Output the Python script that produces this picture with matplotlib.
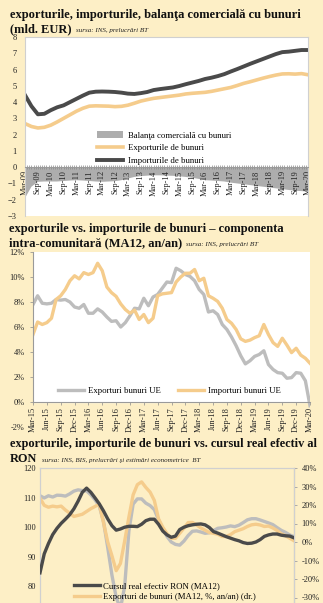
import matplotlib
matplotlib.use("Agg")
import matplotlib.pyplot as plt
import numpy as np

plt.rcParams['font.family'] = ['Liberation Serif', 'DejaVu Serif']

BG = '#FDEFC6'
ORANGE = '#F5CC8C'
DARK = '#4A4A4A'
GRAY = '#BDBDBD'

# ---- panel 1: monthly index, Mar-09 = 0, quarterly readings
p1_ticklabels = ['Mar-09', 'Sep-09', 'Mar-10', 'Sep-10', 'Mar-11', 'Sep-11', 'Mar-12',
                 'Sep-12', 'Mar-13', 'Sep-13', 'Mar-14', 'Sep-14', 'Mar-15', 'Sep-15',
                 'Mar-16', 'Sep-16', 'Mar-17', 'Sep-17', 'Mar-18', 'Sep-18', 'Mar-19',
                 'Sep-19', 'Mar-20']
p1_imports = [4.43, 3.75, 3.25, 3.28, 3.5, 3.68, 3.8, 4.0, 4.2, 4.4, 4.58, 4.64, 4.65,
              4.64, 4.62, 4.58, 4.52, 4.5, 4.55, 4.62, 4.74, 4.8, 4.85, 4.9, 4.99, 5.1,
              5.2, 5.3, 5.42, 5.5, 5.6, 5.72, 5.88, 6.03, 6.19, 6.35, 6.5, 6.65, 6.8,
              6.95, 7.07, 7.1, 7.15, 7.2, 7.2]
p1_exports = [2.68, 2.5, 2.41, 2.45, 2.58, 2.78, 3.0, 3.22, 3.44, 3.62, 3.75, 3.77, 3.76,
              3.75, 3.72, 3.74, 3.81, 3.93, 4.06, 4.15, 4.23, 4.28, 4.33, 4.38, 4.43, 4.5,
              4.54, 4.57, 4.6, 4.66, 4.74, 4.82, 4.9, 5.02, 5.15, 5.25, 5.36, 5.47, 5.57,
              5.66, 5.73, 5.74, 5.72, 5.75, 5.68]
p1_balance = [-1.9, -1.2, -0.9, -0.88, -0.88, -0.88, -0.85, -0.82, -0.8, -0.82, -0.85,
              -0.88, -0.9, -0.88, -0.86, -0.8, -0.7, -0.6, -0.55, -0.52, -0.5, -0.5,
              -0.52, -0.53, -0.56, -0.6, -0.65, -0.72, -0.8, -0.82, -0.85, -0.88, -0.95,
              -1.0, -1.05, -1.1, -1.15, -1.2, -1.25, -1.3, -1.35, -1.4, -1.45, -1.47, -1.5]

# ---- panel 2: monthly, Mar-15 = 0
p2_ticklabels = ['Mar-15', 'Jun-15', 'Sep-15', 'Dec-15', 'Mar-16', 'Jun-16', 'Sep-16',
                 'Dec-16', 'Mar-17', 'Jun-17', 'Sep-17', 'Dec-17', 'Mar-18', 'Jun-18',
                 'Sep-18', 'Dec-18', 'Mar-19', 'Jun-19', 'Sep-19', 'Dec-19', 'Mar-20']
p2_exp_ue = [7.8, 8.5, 7.9, 7.85, 7.9, 8.2, 8.15, 8.2, 8.0, 7.6, 7.5, 7.8, 7.1, 7.1, 7.45,
             7.2, 6.8, 6.45, 6.5, 6.0, 6.35, 6.9, 7.5, 7.45, 8.3, 7.7, 8.4, 8.6, 9.1, 9.6,
             9.55, 10.7, 10.5, 10.2, 10.05, 9.7, 9.0, 8.6, 7.2, 7.3, 7.0, 6.2, 5.8, 5.2,
             4.5, 3.7, 3.05, 3.3, 3.65, 3.8, 4.1, 3.0, 2.6, 2.35, 2.3, 1.9, 1.95, 2.35,
             2.3, 1.7, -0.3]
p2_imp_ue = [5.4, 6.4, 6.2, 6.35, 6.7, 8.2, 8.5, 9.0, 9.7, 10.1, 9.85, 10.35, 10.2, 10.35,
             11.1, 10.5, 9.2, 8.75, 8.45, 7.85, 7.4, 7.1, 7.35, 6.6, 7.0, 6.35, 6.7, 8.5,
             8.65, 8.7, 8.75, 9.6, 10.0, 10.3, 10.3, 10.6, 9.7, 9.9, 8.5, 8.3, 8.05, 7.5,
             6.6, 6.3, 5.8, 5.05, 4.85, 4.95, 5.15, 5.3, 6.2, 5.4, 4.75, 4.45, 5.1, 4.55,
             3.95, 4.3, 3.75, 3.5, 3.1]

# ---- panel 3: quarterly from 2005Q1
p3_reer = [84.6, 91.0, 94.5, 97.5, 99.6, 101.3, 102.7, 104.2, 106.2, 108.8, 111.8, 113.2,
           111.8, 109.9, 107.9, 105.5, 102.8, 100.5, 99.0, 99.4, 100.0, 100.3, 100.3,
           100.2, 101.0, 102.2, 102.7, 102.7, 101.0, 98.7, 97.4, 96.6, 97.0, 99.2, 100.0,
           100.5, 100.8, 101.0, 101.1, 100.8, 99.9, 98.5, 98.0, 97.4, 96.8, 96.3, 95.8,
           95.4, 94.8, 94.5, 94.6, 95.0, 95.8, 96.9, 97.4, 97.7, 97.7, 97.3, 97.1, 97.0,
           96.4]
p3_exp = [23.7, 19.8, 18.8, 19.4, 19.0, 19.4, 17.3, 15.6, 13.8, 14.4, 15.0, 16.5, 18.0,
          19.2, 20.5, 10.5, 0.0, -7.5, -15.5, -11.6, 0.5, 13.5, 25.5, 31.0, 32.5, 29.5,
          27.0, 22.5, 12.5, 8.0, 4.5, 2.0, 2.0, 4.7, 7.5, 10.5, 10.6, 9.2, 7.6, 6.4, 5.1,
          4.7, 4.2, 3.0, 3.0, 4.0, 5.6, 6.4, 7.2, 8.4, 9.3, 9.6, 9.2, 8.4, 8.6, 7.6, 6.2,
          4.4, 3.4, 2.0, 0.7]
p3_imp = [25.0, 23.8, 25.0, 24.3, 25.3, 25.2, 24.8, 26.0, 27.5, 28.2, 27.8, 27.6, 25.5,
          22.8, 19.5, 11.0, -3.0, -18.0, -30.0, -36.0, -24.0, 6.0, 20.5, 23.3, 23.3, 21.0,
          19.7, 17.5, 12.0, 7.0, 3.0, 0.0, -1.3, -1.7, 0.5, 3.5, 5.8, 6.0, 5.4, 4.7, 5.0,
          6.2, 7.4, 7.7, 8.1, 8.7, 8.3, 9.1, 10.5, 12.0, 12.6, 12.6, 11.9, 11.1, 10.3,
          9.4, 7.8, 6.3, 5.2, 3.8, 2.9]

W, H = 323, 603
fig = plt.figure(figsize=(W / 100, H / 100), dpi=100, facecolor=BG)


def box(l, t, r, b):
    return [l / W, 1 - b / H, (r - l) / W, (b - t) / H]


def title(x, y, txt, size=9.0):
    return fig.text(x / W, 1 - y / H, txt, fontsize=size, fontweight='bold',
                    va='baseline', ha='left', color='#111111')


def source(ax, t, txt):
    ax.annotate(txt, xy=(1, 0), xycoords=t, xytext=(3, 1.5),
                textcoords='offset points', fontsize=5.0, style='italic',
                va='bottom', ha='left', color='#222222', annotation_clip=False)


def frame(ax):
    for s in ax.spines.values():
        s.set_color('#D0D0D0')
        s.set_linewidth(0.8)
    ax.tick_params(labelsize=6.0, colors='#222222', length=0)


# ================= panel 1
title(10, 18, 'exporturile, importurile, balanţa comercială cu bunuri')
t1b = title(10, 32, '(mld. EUR)')
ax1 = fig.add_axes(box(25, 37, 308, 216))
ax1.set_facecolor('white')
frame(ax1)
source(ax1, t1b, 'sursa: INS, prelucrări BT')

m1 = np.arange(0, 3 * len(p1_imports), 3)
ax1.fill_between(m1, p1_balance, 0, facecolor='#ADADAD', edgecolor='none', zorder=1.5,
                 label='Balanţa comercială cu bunuri')
ax1.plot(m1, p1_exports, color=ORANGE, lw=2.6, label='Exporturile de bunuri')
ax1.plot(m1, p1_imports, color=DARK, lw=2.8, label='Importurile de bunuri')
ax1.set_xlim(0, 132)
ax1.set_ylim(-3, 8)
ax1.set_yticks(range(-3, 9))
ax1.spines['bottom'].set_position(('data', 0))
ax1.spines['bottom'].set_color('#9A9A9A')
ax1.set_xticks(np.arange(0, 133, 6))
ax1.set_xticklabels(p1_ticklabels, rotation=90)
ax1.set_xticks(np.arange(0, 133, 1), minor=True)
ax1.tick_params(axis='x', which='both', direction='inout', length=2.5, width=0.5,
                color='#8A8A8A', pad=1)
ax1.tick_params(axis='y', pad=6)
ax1.legend(loc='upper left', bbox_to_anchor=(97 / W, 1 - 131 / H),
           bbox_transform=fig.transFigure, frameon=False, fontsize=6.3,
           handlelength=3.0, handletextpad=0.5, labelspacing=0.45,
           borderpad=0, borderaxespad=0, handleheight=0.9)

# ================= panel 2
title(9, 232, 'exporturile vs. importurile de bunuri – componenta')
t2b = title(9, 246, 'intra-comunitară (MA12, an/an)')
ax2 = fig.add_axes(box(33, 252, 310, 427))
ax2.set_facecolor(BG)
frame(ax2)
source(ax2, t2b, 'sursa: INS, prelucrări BT')
ax2.axhspan(0, 12, color='white', zorder=0)
m2 = np.arange(len(p2_exp_ue))
ax2.plot(m2, p2_exp_ue, color=GRAY, lw=2.4, label='Exporturi bunuri UE')
ax2.plot(m2, p2_imp_ue, color=ORANGE, lw=2.4, label='Importuri bunuri UE')
ax2.set_xlim(0, 60)
ax2.set_ylim(-2, 12)
ax2.set_yticks(range(-2, 13, 2))
ax2.set_yticklabels(['%d%%' % v for v in range(-2, 13, 2)])
for s in ['top', 'right']:
    ax2.spines[s].set_visible(False)
ax2.spines['bottom'].set_position(('data', 0))
ax2.spines['bottom'].set_color('#9A9A9A')
ax2.spines['left'].set_color('#9A9A9A')
ax2.spines['left'].set_bounds(0, 12)
ax2.set_xticks(np.arange(0, 61, 3))
ax2.set_xticklabels(p2_ticklabels, rotation=90)
ax2.tick_params(axis='x', direction='out', length=2.5, width=0.5, color='#8A8A8A', pad=1)
ax2.tick_params(axis='y', direction='out', length=2, width=0.5, color='#8A8A8A', pad=4)
ax2.legend(loc='upper left', bbox_to_anchor=(58 / W, 1 - 387 / H),
           bbox_transform=fig.transFigure, frameon=False, fontsize=6.3, ncol=2,
           handlelength=3.0, handletextpad=0.4, columnspacing=2.0, borderpad=0,
           borderaxespad=0)

# ================= panel 3
title(10, 447, 'exporturile, importurile de bunuri vs. cursul real efectiv al', size=8.85)
t3b = title(10, 462, 'RON', size=8.85)
ax3 = fig.add_axes(box(40, 468, 294, 616))
ax3.set_facecolor('white')
frame(ax3)
source(ax3, t3b, 'sursa: INS, BIS, prelucrări şi estimări econometrice  BT')
ax3r = ax3.twinx()
m3 = np.arange(len(p3_reer))
l1, = ax3.plot(m3, p3_reer, color=DARK, lw=2.4, zorder=3)
l2, = ax3r.plot(m3, p3_exp, color=ORANGE, lw=2.4, zorder=2)
l3, = ax3r.plot(m3, p3_imp, color=GRAY, lw=2.4, zorder=1)
ax3.set_zorder(ax3r.get_zorder() + 1)
ax3.patch.set_visible(False)
ax3r.patch.set_facecolor('white')
ax3.set_xlim(0, 60)
ax3.set_ylim(70, 120)
ax3.set_yticks(range(80, 121, 10))
ax3r.set_ylim(-40, 40)
ax3r.set_yticks(range(-30, 41, 10))
ax3r.set_yticklabels(['%d%%' % v for v in range(-30, 41, 10)])
for s in ax3r.spines.values():
    s.set_color('#D0D0D0')
ax3r.spines['right'].set_color('#A0A0A0')
ax3r.tick_params(axis='y', labelsize=6.0, colors='#222222', direction='out', length=2.5,
                 width=0.6, pad=3)
ax3r.tick_params(axis='y', color='#A0A0A0')
ax3.tick_params(axis='y', pad=3)
ax3.set_xticks([])
ax3.legend([l1, l2], ['Cursul real efectiv RON (MA12)',
                      'Exporturi de bunuri (MA12, %, an/an) (dr.)'],
           loc='upper left', bbox_to_anchor=(74 / W, 1 - 582 / H),
           bbox_transform=fig.transFigure, frameon=False, fontsize=6.3,
           handlelength=3.0, handletextpad=0.3, labelspacing=0.3, borderpad=0,
           borderaxespad=0)

fig.savefig('out.png', dpi=100, facecolor=BG)
